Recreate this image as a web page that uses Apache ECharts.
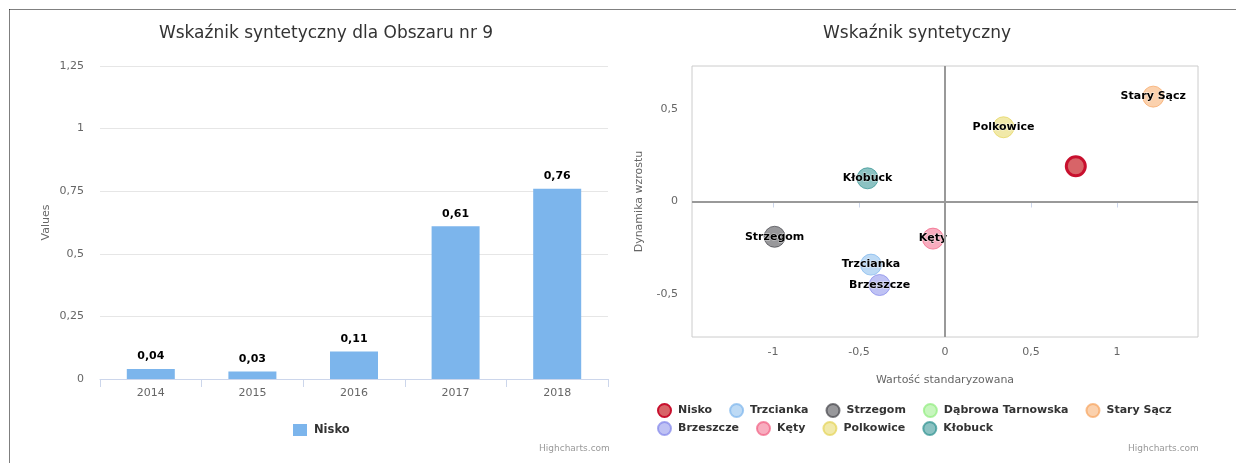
<!DOCTYPE html>
<html>
<head>
<meta charset="utf-8">
<script src="https://cdn.jsdelivr.net/npm/echarts@6/dist/echarts.min.js"></script>
<style>
html,body{margin:0;padding:0;background:#fff;}
#c{width:1236px;height:463px;}
</style>
</head>
<body>
<div id="c"></div>
<script>
// ---- data ----
const years = ['2014', '2015', '2016', '2017', '2018'];
const niskoValues = [0.04, 0.03, 0.11, 0.61, 0.76];
const barSeriesName = 'Nisko';

const cities = ['Nisko', 'Trzcianka', 'Strzegom', 'Dąbrowa Tarnowska', 'Stary Sącz', 'Brzeszcze', 'Kęty', 'Polkowice', 'Kłobuck'];
const wartoscStandaryzowana = [0.76, -0.43, -0.99, null, 1.21, -0.38, -0.07, 0.34, -0.45];
const dynamikaWzrostu = [0.19, -0.34, -0.19, null, 0.565, -0.45, -0.20, 0.40, 0.125];

const scatterXTicks = [-1, -0.5, 0, 0.5, 1];
const scatterYTicks = [-0.5, 0, 0.5];

const titleLeft = 'Wskaźnik syntetyczny dla Obszaru nr 9';
const titleRight = 'Wskaźnik syntetyczny';
const credits = 'Highcharts.com';

// ---- style ----
const FONT = '"DejaVu Sans", sans-serif';
const cityColors = {
  'Nisko': 'rgba(214,92,96,0.95)',
  'Trzcianka': 'rgba(124,181,236,0.5)',
  'Strzegom': 'rgba(67,67,72,0.55)',
  'Dąbrowa Tarnowska': 'rgba(144,237,125,0.5)',
  'Stary Sącz': 'rgba(247,163,92,0.5)',
  'Brzeszcze': 'rgba(128,133,233,0.5)',
  'Kęty': 'rgba(241,92,128,0.5)',
  'Polkowice': 'rgba(228,211,84,0.5)',
  'Kłobuck': 'rgba(43,144,143,0.55)'
};
const cityBorders = {
  'Nisko': '#c8102e',
  'Trzcianka': 'rgba(124,181,236,0.7)',
  'Strzegom': 'rgba(67,67,72,0.7)',
  'Dąbrowa Tarnowska': 'rgba(144,237,125,0.7)',
  'Stary Sącz': 'rgba(247,163,92,0.7)',
  'Brzeszcze': 'rgba(128,133,233,0.7)',
  'Kęty': 'rgba(241,92,128,0.7)',
  'Polkowice': 'rgba(228,211,84,0.7)',
  'Kłobuck': 'rgba(43,144,143,0.7)'
};
const fmt = v => String(v).replace('.', ',');
const fmt2 = v => v.toFixed(2).replace('.', ',');
const SCATTER_SUFFIX = '\u200b';

const chart = echarts.init(document.getElementById('c'), null, {renderer: 'canvas'});

const scatterSeries = cities.map((name, i) => {
  const hasData = wartoscStandaryzowana[i] !== null && dynamikaWzrostu[i] !== null;
  const isNisko = name === 'Nisko';
  const s = {
    type: 'scatter',
    name: name + SCATTER_SUFFIX,
    xAxisIndex: 1,
    yAxisIndex: 1,
    symbol: 'circle',
    symbolSize: isNisko ? 19 : 21,
    z: isNisko ? 5 : 3,
    data: hasData ? [[wartoscStandaryzowana[i], dynamikaWzrostu[i]]] : [],
    itemStyle: {
      color: cityColors[name],
      borderColor: cityBorders[name],
      borderWidth: isNisko ? 3 : 1,
      opacity: 1
    },
    label: {
      show: !isNisko,
      position: 'inside',
      formatter: () => name,
      fontFamily: FONT,
      fontWeight: 'bold',
      fontSize: 11,
      color: '#000',
      textBorderColor: 'rgba(255,255,255,0.6)',
      textBorderWidth: 1
    },
    emphasis: {disabled: true}
  };
  if (i === 1) {
    s.markLine = {
      silent: true,
      symbol: 'none',
      animation: false,
      label: {show: false},
      lineStyle: {color: '#999', width: 2, type: 'solid'},
      emphasis: {disabled: true},
      data: [{xAxis: 0}, {yAxis: 0}]
    };
  }
  return s;
});

const legendRow1 = cities.slice(0, 5).map(n => n + SCATTER_SUFFIX);
const legendRow2 = cities.slice(5).map(n => n + SCATTER_SUFFIX);
const legendCommon = {
  orient: 'horizontal',
  icon: 'circle',
  itemWidth: 13,
  itemHeight: 13,
  itemGap: 17,
  selectedMode: false,
  padding: 0,
  formatter: n => n.replace(SCATTER_SUFFIX, ''),
  textStyle: {fontFamily: FONT, fontWeight: 'bold', fontSize: 11, color: '#333', padding: [0, 0, 0, 2]}
};

const option = {
  animation: false,
  backgroundColor: '#fff',
  textStyle: {fontFamily: FONT},
  title: [
    {text: titleLeft, left: 321, top: 20, textAlign: 'center',
     textStyle: {fontFamily: FONT, fontSize: 17, fontWeight: 'normal', color: '#333'}},
    {text: titleRight, left: 912, top: 20, textAlign: 'center',
     textStyle: {fontFamily: FONT, fontSize: 17, fontWeight: 'normal', color: '#333'}}
  ],
  legend: [
    Object.assign({}, legendCommon, {
      data: [barSeriesName], left: 293, top: 424, icon: 'rect', itemWidth: 14, itemHeight: 12,
      formatter: n => n, textStyle: Object.assign({}, legendCommon.textStyle, {fontSize: 11.5})
    }),
    Object.assign({}, legendCommon, {data: legendRow1, left: 657, top: 403}),
    Object.assign({}, legendCommon, {data: legendRow2, left: 657, top: 421})
  ],
  grid: [
    {left: 100, right: 1236 - 608, top: 66, bottom: 463 - 379, containLabel: false},
    {left: 692, right: 1236 - 1198, top: 66, bottom: 463 - 337, containLabel: false,
     show: true, borderColor: '#ccc', borderWidth: 1, backgroundColor: 'transparent'}
  ],
  xAxis: [
    {
      type: 'category', gridIndex: 0, data: years,
      axisLine: {lineStyle: {color: '#ccd6eb'}},
      axisTick: {show: true, alignWithLabel: false, length: 8, lineStyle: {color: '#ccd6eb'}},
      axisLabel: {color: '#666', fontSize: 11, fontFamily: FONT, margin: 9},
      splitLine: {show: false}
    },
    {
      type: 'value', gridIndex: 1, min: -1.47, max: 1.47,
      name: 'Wartość standaryzowana', nameLocation: 'middle', nameGap: 38,
      nameTextStyle: {color: '#666', fontSize: 11, fontFamily: FONT},
      axisLine: {show: false},
      axisTick: {show: true, length: 6, customValues: scatterXTicks, lineStyle: {color: '#ccd6eb'}},
      axisLabel: {color: '#666', fontSize: 11, fontFamily: FONT, margin: 10, customValues: scatterXTicks, formatter: fmt},
      splitLine: {show: false}
    }
  ],
  yAxis: [
    {
      type: 'value', gridIndex: 0, min: 0, max: 1.25, interval: 0.25,
      name: 'Values', nameLocation: 'middle', nameGap: 48, nameRotate: 90,
      nameTextStyle: {color: '#666', fontSize: 11, fontFamily: FONT},
      axisLine: {show: false}, axisTick: {show: false},
      axisLabel: {color: '#666', fontSize: 11, fontFamily: FONT, margin: 16, formatter: fmt},
      splitLine: {lineStyle: {color: '#e6e6e6'}}
    },
    {
      type: 'value', gridIndex: 1, min: -0.73, max: 0.73,
      name: 'Dynamika wzrostu', nameLocation: 'middle', nameGap: 47, nameRotate: 90,
      nameTextStyle: {color: '#666', fontSize: 11, fontFamily: FONT},
      axisLine: {show: false}, axisTick: {show: false},
      axisLabel: {color: '#666', fontSize: 11, fontFamily: FONT, margin: 14, customValues: scatterYTicks, formatter: fmt},
      splitLine: {show: false}
    }
  ],
  series: [
    {
      type: 'bar', name: barSeriesName, xAxisIndex: 0, yAxisIndex: 0,
      data: niskoValues, barWidth: 48,
      itemStyle: {color: '#7cb5ec'},
      label: {show: true, position: 'top', distance: 7, formatter: p => fmt2(p.value),
        fontFamily: FONT, fontWeight: 'bold', fontSize: 11, color: '#000'},
      emphasis: {disabled: true}
    }
  ].concat(scatterSeries),
  graphic: [
    {type: 'line', silent: true, shape: {x1: 9.5, y1: 9.5, x2: 1236, y2: 9.5},
     style: {stroke: '#000', lineWidth: 1, lineDash: [1, 1]}},
    {type: 'line', silent: true, shape: {x1: 9.5, y1: 9.5, x2: 9.5, y2: 463},
     style: {stroke: '#000', lineWidth: 1, lineDash: [1, 1]}},
    {type: 'text', silent: true, left: 539, top: 444,
     style: {text: credits, fill: '#999', fontSize: 9, fontFamily: FONT}},
    {type: 'text', silent: true, left: 1128, top: 444,
     style: {text: credits, fill: '#999', fontSize: 9, fontFamily: FONT}}
  ]
};
chart.setOption(option);
</script>
</body>
</html>
